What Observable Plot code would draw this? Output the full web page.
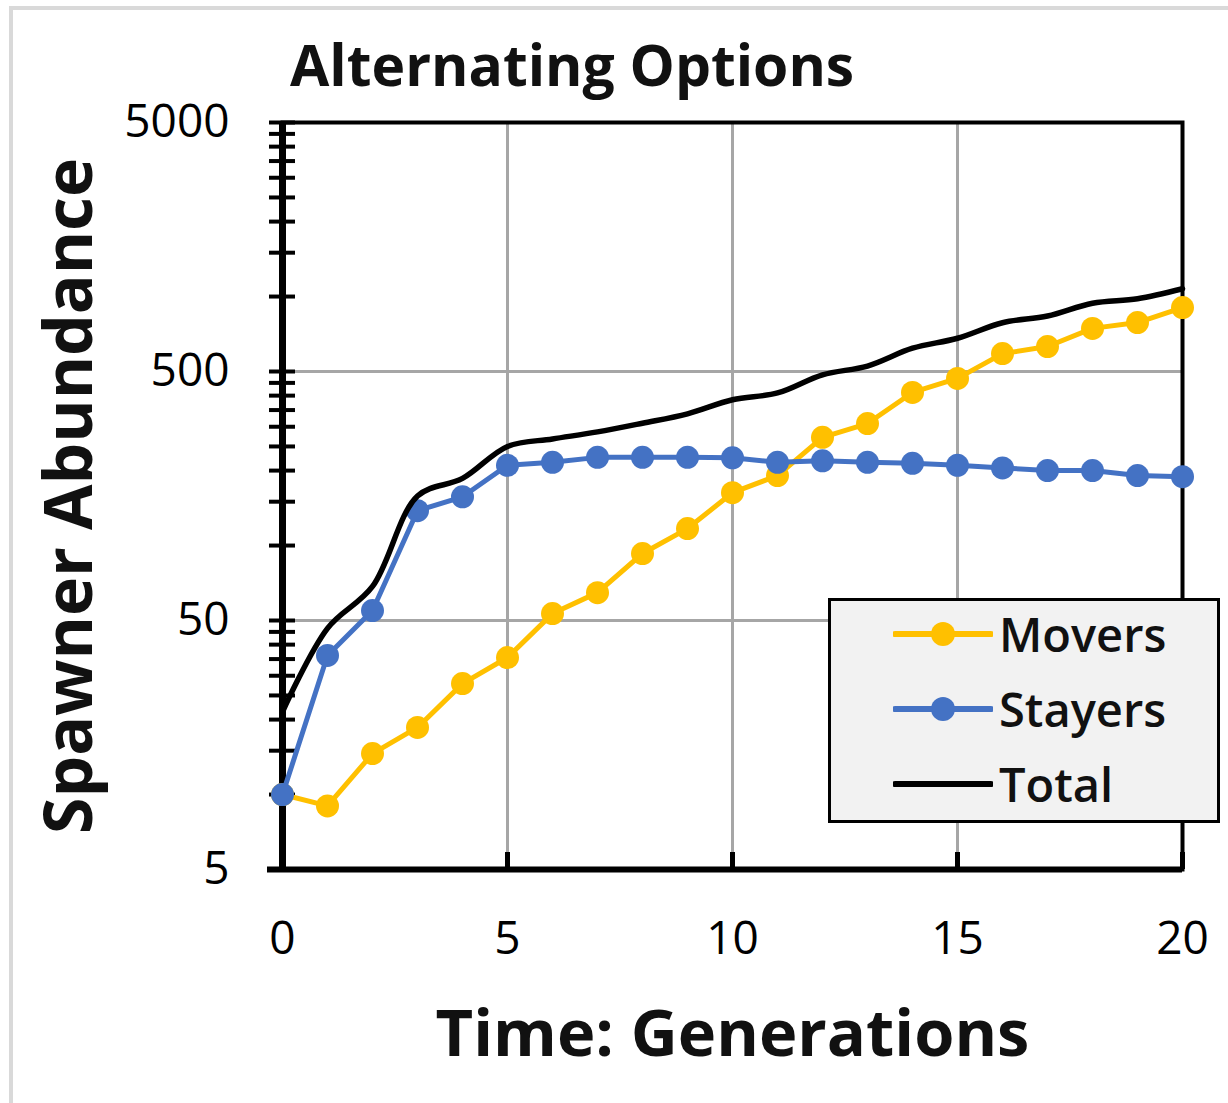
<!DOCTYPE html>
<html>
<head>
<meta charset="utf-8">
<script src="https://cdn.jsdelivr.net/npm/d3@7"></script>
<script src="https://cdn.jsdelivr.net/npm/@observablehq/plot@0.6"></script>
<style>
  html, body { margin: 0; padding: 0; background: #fff; }
  #fig { position: relative; width: 1228px; height: 1103px; overflow: hidden; background: #fff; font-family: 'Open Sans', sans-serif; color: #111; }
  #border { position: absolute; left: 9px; top: 6px; width: 1300px; height: 1200px; border-left: 4px solid #d9d9d9; border-top: 4px solid #d9d9d9; }
  #title { position: absolute; left: 290px; top: 24px; font-size: 57px; font-weight: 700; line-height: 80px; white-space: nowrap; }
  #chart { position: absolute; left: 0; top: 100px; }
  #legend { position: absolute; left: 828px; top: 598px; width: 386px; height: 219px; background: #f2f2f2; border: 3px solid #000; }
  .item { position: absolute; left: 62px; height: 60px; display: flex; align-items: center; }
  .item span { font-size: 47px; font-weight: 600; margin-left: 6px; line-height: 60px; }
</style>
</head>
<body>
<div id="fig">
  <div id="border"></div>
  <div id="title">Alternating Options</div>
  <div id="chart"></div>
  <div id="legend"></div>
</div>
<script>
// ---- data ----
const generations = [0,1,2,3,4,5,6,7,8,9,10,11,12,13,14,15,16,17,18,19,20];
const movers  = [10, 9.0, 14.6, 18.6, 27.9, 35.5, 53.3, 64.7, 92.9, 117, 163, 191, 272, 309, 412, 469, 590, 630, 745, 786, 903];
const stayers = [10, 36.2, 54.8, 138, 157, 210, 216, 226, 226, 226, 225, 216, 219, 216, 214, 210, 205, 200, 200, 191, 189];
const total   = [21.5, 46.5, 68.5, 158, 186, 250, 268, 286, 310, 338, 385, 410, 485, 526, 620, 680, 785, 835, 940, 980, 1075];
const seriesNames = ["Movers", "Stayers", "Total"];
const seriesColors = ["#ffc000", "#4472c4", "#000000"];
const yTickLabels = [5, 50, 500, 5000];
const yMinorTicks = [5,10,15,20,25,30,35,40,45,50,100,150,200,250,300,350,400,450,500,1000,1500,2000,2500,3000,3500,4000,4500,5000];
const xTickLabels = [0, 5, 10, 15, 20];
const xGrid = [5, 10, 15];
const yGrid = [50, 500];
const xInnerTicks = [5, 10, 15, 20];
const xTitle = "Time: Generations";
const yTitle = "Spawner Abundance";

const rows = (vals) => generations.map((g, i) => ({g, v: vals[i]}));
const moversRows = rows(movers), stayersRows = rows(stayers), totalRows = rows(total);

const plotW = 900, plotH = 747;
const chart = Plot.plot({
  width: 1228,
  height: 1003,
  marginTop: 22,
  marginBottom: 234,
  marginLeft: 282,
  marginRight: 46,
  x: {domain: [0, 20]},
  y: {type: "log", domain: [5, 5000]},
  style: {fontFamily: "'Open Sans', sans-serif", color: "#111", background: "transparent", overflow: "visible"},
  marks: [
    Plot.ruleX(xGrid, {stroke: "#a6a6a6", strokeWidth: 3}),
    Plot.ruleY(yGrid, {stroke: "#a6a6a6", strokeWidth: 3}),
    Plot.frame({stroke: "#000", strokeWidth: 4}),
    Plot.tickY(yMinorTicks, {y: d => d, stroke: "#000", strokeWidth: 4, insetRight: plotW - 26, dx: -13}),
    Plot.tickX(xInnerTicks, {x: d => d, stroke: "#000", strokeWidth: 5, insetTop: plotH - 17}),
    Plot.ruleX([0], {stroke: "#000", strokeWidth: 7}),
    Plot.ruleY([5], {stroke: "#000", strokeWidth: 6, insetLeft: -15}),
    Plot.axisY(yTickLabels, {tickSize: 0, tickPadding: 53, fontSize: 46, tickFormat: d => String(d), label: null, fill: "#000"}),
    Plot.axisX(xTickLabels, {tickSize: 0, tickPadding: 52, fontSize: 46, tickFormat: d => String(d), label: null, fill: "#000"}),
    Plot.line(moversRows, {x: "g", y: "v", stroke: seriesColors[0], strokeWidth: 5}),
    Plot.dot(moversRows, {x: "g", y: "v", fill: seriesColors[0], r: 11.5}),
    Plot.line(stayersRows, {x: "g", y: "v", stroke: seriesColors[1], strokeWidth: 5}),
    Plot.dot(stayersRows, {x: "g", y: "v", fill: seriesColors[1], r: 11.5}),
    Plot.line(totalRows, {x: "g", y: "v", stroke: seriesColors[2], strokeWidth: 5.5, curve: "catmull-rom"}),
    Plot.text([xTitle], {frameAnchor: "bottom", dy: 166, fontSize: 65, fontWeight: 700, lineAnchor: "middle", textAnchor: "middle", fill: "#111"}),
    Plot.text([yTitle], {frameAnchor: "left", dx: -212, rotate: -90, fontSize: 66, fontWeight: 700, lineAnchor: "middle", textAnchor: "middle", fill: "#111"})
  ]
});
document.getElementById("chart").appendChild(chart);

// legend
const legend = document.getElementById("legend");
seriesNames.forEach((name, i) => {
  const item = document.createElement("div");
  item.className = "item";
  item.style.top = (3 + i * 75) + "px";
  const marker = i < 2 ? `<circle cx="50" cy="15" r="12" fill="${seriesColors[i]}"/>` : "";
  item.innerHTML = `<svg width="100" height="30"><line x1="2" x2="98" y1="15" y2="15" stroke="${seriesColors[i]}" stroke-width="6" stroke-linecap="round"/>${marker}</svg><span>${name}</span>`;
  legend.appendChild(item);
});
</script>
</body>
</html>
